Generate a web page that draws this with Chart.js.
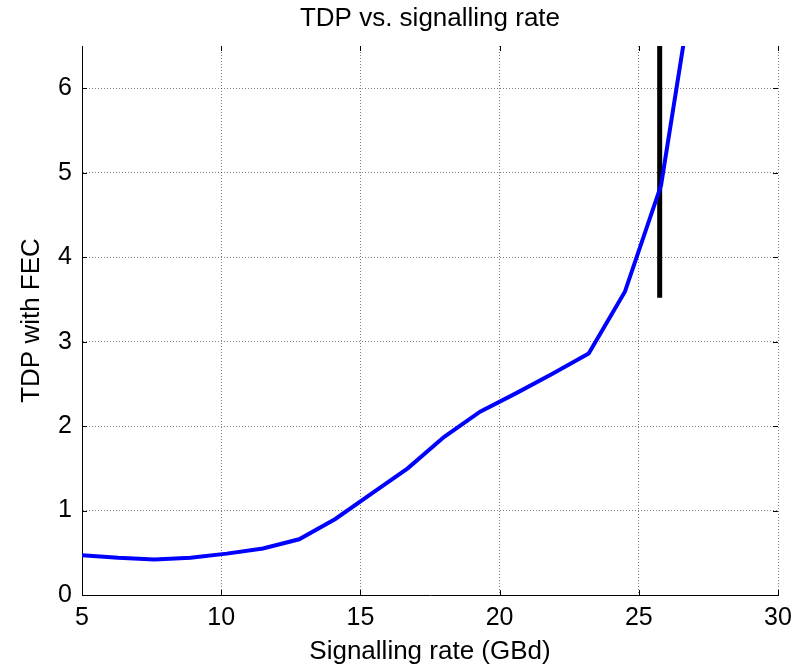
<!DOCTYPE html>
<html>
<head>
<meta charset="utf-8">
<script src="https://cdn.jsdelivr.net/npm/chart.js@4"></script>
<style>
  html, body { margin: 0; padding: 0; background: #fff; }
  #wrap { width: 805px; height: 667px; }
</style>
</head>
<body>
<div id="wrap"><canvas id="tdpChart" width="805" height="667"></canvas></div>
<script>
// signalling rate (GBd) and TDP
const rates = [5, 6.3, 7.6, 8.9, 10.2, 11.5, 12.8, 14.1, 15.4, 16.7, 18.0, 19.3, 20.6, 21.9, 23.2, 24.5, 25.8, 27.1];
const tdp = [0.47, 0.44, 0.42, 0.44, 0.49, 0.55, 0.66, 0.90, 1.20, 1.50, 1.87, 2.17, 2.39, 2.62, 2.86, 3.59, 4.85, 7.55];
// vertical marker line
const markerX = [25.75, 25.75];
const markerY = [3.52, 6.5];
const xTicks = [5, 10, 15, 20, 25, 30];
const yTicks = [0, 1, 2, 3, 4, 5, 6];

const fontFam = '"Liberation Sans", Arial, sans-serif';

// small inward tick marks on all four sides, matlab style
const innerTicks = {
    id: 'innerTicks',
    afterDraw(chart) {
        const { ctx, chartArea: a, scales: { x, y } } = chart;
        ctx.save();
        ctx.strokeStyle = '#000';
        ctx.lineWidth = 1;
        ctx.beginPath();
        xTicks.forEach(v => {
            const px = Math.round(x.getPixelForValue(v)) + 0.5;
            ctx.moveTo(px, a.bottom); ctx.lineTo(px, a.bottom - 5);
            ctx.moveTo(px, a.top); ctx.lineTo(px, a.top + 5);
        });
        yTicks.forEach(v => {
            const py = Math.round(y.getPixelForValue(v)) + 0.5;
            ctx.moveTo(a.left, py); ctx.lineTo(a.left + 5, py);
            ctx.moveTo(a.right, py); ctx.lineTo(a.right - 5, py);
        });
        ctx.stroke();
        ctx.restore();
    }
};

const ctx = document.getElementById('tdpChart').getContext('2d');
new Chart(ctx, {
    type: 'scatter',
    data: {
        datasets: [{
            data: rates.map((r, i) => ({ x: r, y: tdp[i] })),
            showLine: true,
            borderColor: '#0000ff',
            borderWidth: 4,
            pointRadius: 0,
            tension: 0
        }, {
            data: markerX.map((r, i) => ({ x: r, y: markerY[i] })),
            showLine: true,
            borderColor: '#000',
            borderWidth: 5,
            borderCapStyle: 'butt',
            pointRadius: 0
        }]
    },
    plugins: [innerTicks],
    options: {
        responsive: false,
        animation: false,
        layout: { padding: { left: 0, right: 27, top: 0, bottom: 0 } },
        plugins: {
            legend: { display: false },
            tooltip: { enabled: false }
        },
        scales: {
            // top axis only carries the chart title, centred over the plot area
            top: {
                type: 'linear',
                axis: 'x',
                position: 'top',
                min: 5, max: 30,
                afterFit: s => { s.height = 46; },
                grid: { display: false, drawTicks: false },
                border: { display: false },
                ticks: { display: false },
                title: {
                    display: true, text: 'TDP vs. signalling rate', color: '#000',
                    font: { family: fontFam, size: 26 }, padding: { top: 3, bottom: 0 }
                }
            },
            x: {
                type: 'linear',
                min: 5, max: 30,
                afterFit: s => { s.height = 72; },
                afterBuildTicks: s => { s.ticks = xTicks.map(v => ({ value: v })); },
                grid: { color: 'rgba(0,0,0,0.5)', drawTicks: false },
                border: { display: true, color: '#000', width: 1, dash: [1, 2] },
                ticks: { color: '#000', padding: 8, font: { family: fontFam, size: 25 } },
                title: {
                    display: true, text: 'Signalling rate (GBd)', color: '#000',
                    font: { family: fontFam, size: 26 }, padding: { top: 4, bottom: 0 }
                }
            },
            y: {
                type: 'linear',
                min: 0, max: 6.5,
                afterFit: s => { s.width = 82; },
                afterBuildTicks: s => { s.ticks = yTicks.map(v => ({ value: v })); },
                grid: { color: 'rgba(0,0,0,0.5)', drawTicks: false },
                border: { display: true, color: '#000', width: 1, dash: [1, 2] },
                ticks: { color: '#000', padding: 10, font: { family: fontFam, size: 25 } },
                title: {
                    display: true, text: 'TDP with FEC', color: '#000',
                    font: { family: fontFam, size: 26 }, padding: { top: 16, bottom: 0 }
                }
            }
        }
    }
});
</script>
</body>
</html>
